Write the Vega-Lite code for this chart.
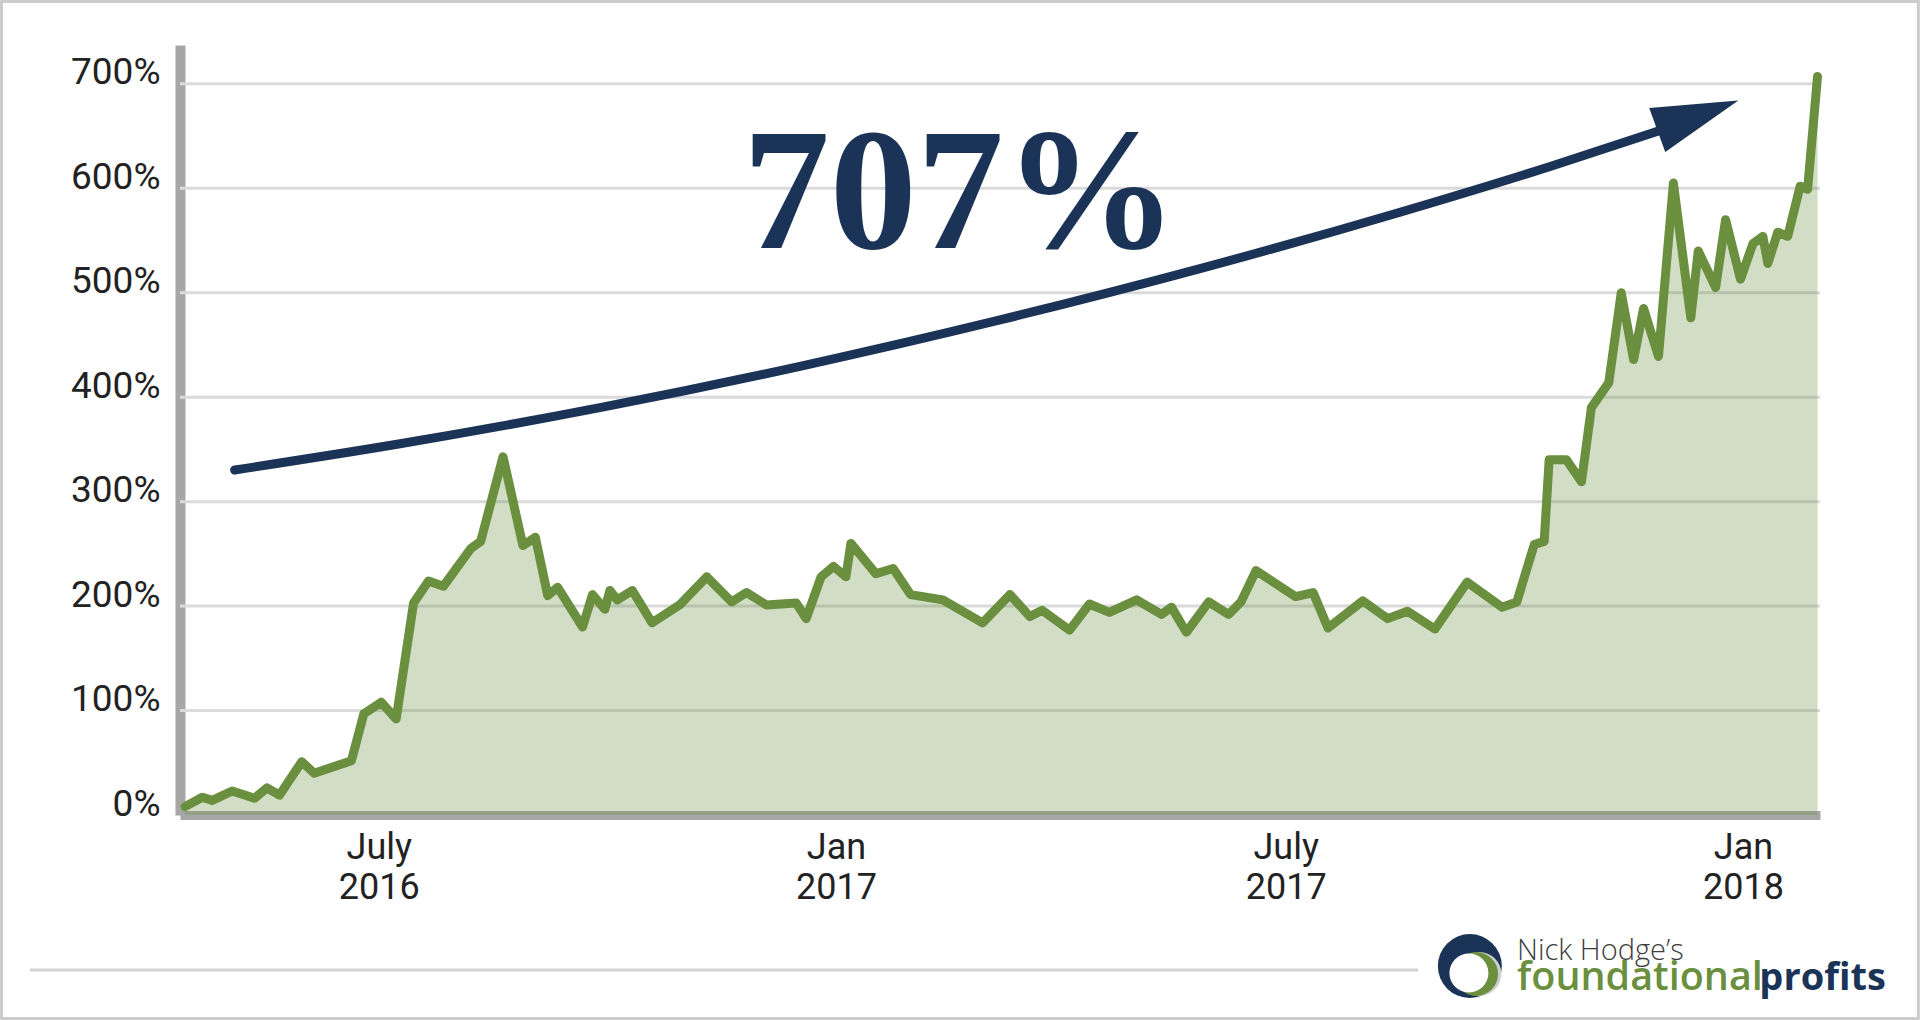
{
  "$schema": "https://vega.github.io/schema/vega-lite/v6.json",
  "width": 1640,
  "height": 770,
  "autosize": {"type": "none"},
  "padding": {"left": 180, "top": 45, "right": 100, "bottom": 205},
  "background": "white",
  "config": {
    "view": {"stroke": null},
    "axis": {"domainColor": "#a6a6a6", "ticks": false, "grid": false, "labelFont": "Roboto", "labelColor": "#222222", "zindex": 1}
  },
  "datasets": {
    "series": [
      {"date": "2016-04-14", "value": 8},
      {"date": "2016-04-21", "value": 17},
      {"date": "2016-04-25", "value": 14},
      {"date": "2016-05-03", "value": 23},
      {"date": "2016-05-12", "value": 16},
      {"date": "2016-05-17", "value": 26},
      {"date": "2016-05-22", "value": 19},
      {"date": "2016-05-31", "value": 51},
      {"date": "2016-06-05", "value": 40},
      {"date": "2016-06-20", "value": 52},
      {"date": "2016-06-25", "value": 97},
      {"date": "2016-07-02", "value": 108},
      {"date": "2016-07-08", "value": 92},
      {"date": "2016-07-15", "value": 203},
      {"date": "2016-07-21", "value": 224},
      {"date": "2016-07-27", "value": 219},
      {"date": "2016-08-07", "value": 255},
      {"date": "2016-08-11", "value": 262},
      {"date": "2016-08-20", "value": 343},
      {"date": "2016-08-28", "value": 258},
      {"date": "2016-09-02", "value": 266},
      {"date": "2016-09-07", "value": 210},
      {"date": "2016-09-11", "value": 218},
      {"date": "2016-09-21", "value": 180},
      {"date": "2016-09-25", "value": 211},
      {"date": "2016-09-30", "value": 197},
      {"date": "2016-10-02", "value": 215},
      {"date": "2016-10-05", "value": 206},
      {"date": "2016-10-11", "value": 215},
      {"date": "2016-10-19", "value": 184},
      {"date": "2016-10-30", "value": 201},
      {"date": "2016-11-10", "value": 228},
      {"date": "2016-11-20", "value": 204},
      {"date": "2016-11-26", "value": 213},
      {"date": "2016-12-04", "value": 201},
      {"date": "2016-12-16", "value": 203},
      {"date": "2016-12-20", "value": 188},
      {"date": "2016-12-26", "value": 228},
      {"date": "2016-12-31", "value": 238},
      {"date": "2017-01-05", "value": 228},
      {"date": "2017-01-07", "value": 260},
      {"date": "2017-01-17", "value": 231},
      {"date": "2017-01-24", "value": 236},
      {"date": "2017-01-31", "value": 211},
      {"date": "2017-02-13", "value": 206},
      {"date": "2017-03-01", "value": 184},
      {"date": "2017-03-12", "value": 211},
      {"date": "2017-03-20", "value": 190},
      {"date": "2017-03-25", "value": 196},
      {"date": "2017-04-05", "value": 177},
      {"date": "2017-04-13", "value": 202},
      {"date": "2017-04-21", "value": 194},
      {"date": "2017-05-02", "value": 206},
      {"date": "2017-05-12", "value": 192},
      {"date": "2017-05-16", "value": 199},
      {"date": "2017-05-22", "value": 175},
      {"date": "2017-05-31", "value": 204},
      {"date": "2017-06-08", "value": 192},
      {"date": "2017-06-13", "value": 204},
      {"date": "2017-06-19", "value": 234},
      {"date": "2017-07-05", "value": 209},
      {"date": "2017-07-12", "value": 213},
      {"date": "2017-07-18", "value": 179},
      {"date": "2017-08-01", "value": 205},
      {"date": "2017-08-11", "value": 188},
      {"date": "2017-08-19", "value": 195},
      {"date": "2017-08-30", "value": 178},
      {"date": "2017-09-12", "value": 223},
      {"date": "2017-09-26", "value": 199},
      {"date": "2017-10-02", "value": 204},
      {"date": "2017-10-09", "value": 259},
      {"date": "2017-10-13", "value": 262},
      {"date": "2017-10-15", "value": 340},
      {"date": "2017-10-22", "value": 340},
      {"date": "2017-10-28", "value": 319},
      {"date": "2017-11-01", "value": 390},
      {"date": "2017-11-08", "value": 414},
      {"date": "2017-11-13", "value": 500},
      {"date": "2017-11-18", "value": 436},
      {"date": "2017-11-22", "value": 485},
      {"date": "2017-11-28", "value": 439},
      {"date": "2017-12-04", "value": 605},
      {"date": "2017-12-11", "value": 476},
      {"date": "2017-12-14", "value": 540},
      {"date": "2017-12-21", "value": 505},
      {"date": "2017-12-25", "value": 570},
      {"date": "2017-12-31", "value": 513},
      {"date": "2018-01-05", "value": 547},
      {"date": "2018-01-09", "value": 554},
      {"date": "2018-01-11", "value": 528},
      {"date": "2018-01-15", "value": 558},
      {"date": "2018-01-19", "value": 554},
      {"date": "2018-01-24", "value": 602},
      {"date": "2018-01-27", "value": 599},
      {"date": "2018-01-31", "value": 707}
    ],
    "grid": [
      {"value": 100}, {"value": 200}, {"value": 300}, {"value": 400},
      {"value": 500}, {"value": 600}, {"value": 700}
    ],
    "arrow": [
      {"date": "2016-05-04T00:00:00Z", "value": 330.3},
      {"date": "2016-07-09T13:00:00Z", "value": 355.4},
      {"date": "2016-09-28T00:00:00Z", "value": 390.0},
      {"date": "2016-12-17T12:00:00Z", "value": 429.6},
      {"date": "2017-03-08T00:00:00Z", "value": 474.0},
      {"date": "2017-05-27T12:00:00Z", "value": 523.1},
      {"date": "2017-08-16T00:00:00Z", "value": 577.1},
      {"date": "2017-10-15T10:00:00Z", "value": 620.9},
      {"date": "2017-11-27T12:00:00Z", "value": 654.5}
    ],
    "head": [
      {"date": "2017-11-27T12:00:00Z", "value": 655.8}
    ],
    "headline": [
      {"date": "2017-02-20", "value": 542.8, "label": "707%"}
    ],
    "frame": [
      {"date": "2016-01-31T04:00:00Z", "date2": "2018-03-12T14:00:00Z", "value": 778.9, "value2": -194.8}
    ],
    "separator": [
      {"date": "2016-02-11T14:00:00Z", "date2": "2017-08-23T05:00:00Z", "value": -148.4}
    ],
    "logo": [
      {"part": "ring", "date": "2017-09-13T02:00:00Z", "value": -144.6},
      {"part": "gray", "date": "2017-09-16T22:00:00Z", "value": -152.2},
      {"part": "green", "date": "2017-09-15T14:00:00Z", "value": -152.2},
      {"part": "white", "date": "2017-09-12T17:00:00Z", "value": -151.2}
    ],
    "brand": [
      {"part": "nick", "date": "2017-10-02T01:30:00Z", "value": -138.8, "label": "Nick Hodge’s"},
      {"part": "found", "date": "2017-10-02T01:30:00Z", "value": -167.5, "label": "foundational"},
      {"part": "profits", "date": "2018-01-07T14:00:00Z", "value": -167.5, "label": "profits"}
    ]
  },
  "layer": [
    {
      "data": {"name": "frame"},
      "mark": {"type": "rect", "fillOpacity": 0, "stroke": "#cccccc", "strokeWidth": 3},
      "encoding": {
        "x": {"field": "date", "type": "temporal"},
        "x2": {"field": "date2"},
        "y": {"field": "value", "type": "quantitative"},
        "y2": {"field": "value2"}
      }
    },
    {
      "data": {"name": "grid"},
      "mark": {"type": "rule", "color": "#dadada", "strokeWidth": 3},
      "encoding": {
        "y": {"field": "value", "type": "quantitative"}
      }
    },
    {
      "data": {"name": "series"},
      "mark": {"type": "area", "color": "#6a8f3e", "opacity": 0.3},
      "encoding": {
        "x": {"field": "date", "type": "temporal",
          "scale": {"type": "utc", "nice": false, "domain": [{"year": 2016, "month": 4, "date": 12, "utc": true}, {"year": 2018, "month": 2, "date": 1, "utc": true}]},
          "axis": {
            "title": null,
            "values": [
              {"year": 2016, "month": 7, "date": 1, "utc": true},
              {"year": 2017, "month": 1, "date": 1, "utc": true},
              {"year": 2017, "month": 7, "date": 1, "utc": true},
              {"year": 2018, "month": 1, "date": 1, "utc": true}
            ],
            "labelExpr": "[utcmonth(datum.value) == 6 ? 'July' : 'Jan', utcFormat(datum.value, '%Y')]",
            "labelFontSize": 36,
            "labelLineHeight": 40,
            "labelPadding": 15,
            "labelFlush": false,
            "labelOverlap": false,
            "domainWidth": 9
          }
        },
        "y": {"field": "value", "type": "quantitative",
          "scale": {"domain": [0, 737.2], "nice": false, "zero": false},
          "axis": {
            "title": null,
            "values": [0, 100, 200, 300, 400, 500, 600, 700],
            "labelExpr": "datum.value + '%'",
            "labelBaseline": "alphabetic",
            "labelFontSize": 37,
            "labelPadding": 20,
            "labelOverlap": false,
            "domainWidth": 10
          }
        }
      }
    },
    {
      "data": {"name": "series"},
      "mark": {"type": "line", "color": "#6a8f3e", "strokeWidth": 9, "strokeJoin": "round", "strokeCap": "round"},
      "encoding": {
        "x": {"field": "date", "type": "temporal"},
        "y": {"field": "value", "type": "quantitative"}
      }
    },
    {
      "data": {"name": "arrow"},
      "mark": {"type": "line", "color": "#1b3356", "strokeWidth": 9, "strokeCap": "round", "interpolate": "monotone"},
      "encoding": {
        "x": {"field": "date", "type": "temporal"},
        "y": {"field": "value", "type": "quantitative"}
      }
    },
    {
      "data": {"name": "head"},
      "mark": {"type": "point", "shape": "M0,-0.272L1,0L0,0.272Z", "size": 29791, "angle": 340, "filled": true, "opacity": 1, "color": "#1b3356", "strokeWidth": 0},
      "encoding": {
        "x": {"field": "date", "type": "temporal"},
        "y": {"field": "value", "type": "quantitative"}
      }
    },
    {
      "data": {"name": "headline"},
      "mark": {"type": "text", "font": "Liberation Serif", "fontWeight": "bold", "fontSize": 174, "align": "center", "baseline": "alphabetic", "color": "#1b3356"},
      "encoding": {
        "x": {"field": "date", "type": "temporal"},
        "y": {"field": "value", "type": "quantitative"},
        "text": {"field": "label"}
      }
    },
    {
      "data": {"name": "separator"},
      "mark": {"type": "rule", "color": "#d3d3d3", "strokeWidth": 3},
      "encoding": {
        "x": {"field": "date", "type": "temporal"},
        "x2": {"field": "date2"},
        "y": {"field": "value", "type": "quantitative"}
      }
    },
    {
      "data": {"name": "logo"},
      "transform": [{"filter": "datum.part == 'ring'"}],
      "mark": {"type": "point", "shape": "circle", "size": 4096, "filled": true, "opacity": 1, "color": "#1b3356", "strokeWidth": 0},
      "encoding": {
        "x": {"field": "date", "type": "temporal"},
        "y": {"field": "value", "type": "quantitative"}
      }
    },
    {
      "data": {"name": "logo"},
      "transform": [{"filter": "datum.part == 'gray'"}],
      "mark": {"type": "point", "shape": "circle", "size": 1936, "filled": true, "opacity": 1, "color": "#cfcfcf", "strokeWidth": 0},
      "encoding": {
        "x": {"field": "date", "type": "temporal"},
        "y": {"field": "value", "type": "quantitative"}
      }
    },
    {
      "data": {"name": "logo"},
      "transform": [{"filter": "datum.part == 'green'"}],
      "mark": {"type": "point", "shape": "circle", "size": 1936, "filled": true, "opacity": 1, "color": "#6a8f3e", "strokeWidth": 0},
      "encoding": {
        "x": {"field": "date", "type": "temporal"},
        "y": {"field": "value", "type": "quantitative"}
      }
    },
    {
      "data": {"name": "logo"},
      "transform": [{"filter": "datum.part == 'white'"}],
      "mark": {"type": "point", "shape": "circle", "size": 1521, "filled": true, "opacity": 1, "color": "#ffffff", "strokeWidth": 0},
      "encoding": {
        "x": {"field": "date", "type": "temporal"},
        "y": {"field": "value", "type": "quantitative"}
      }
    },
    {
      "data": {"name": "brand"},
      "transform": [{"filter": "datum.part == 'nick'"}],
      "mark": {"type": "text", "font": "Open Sans", "fontWeight": 300, "fontSize": 29, "align": "left", "baseline": "alphabetic", "color": "#3d3d3d"},
      "encoding": {
        "x": {"field": "date", "type": "temporal"},
        "y": {"field": "value", "type": "quantitative"},
        "text": {"field": "label"}
      }
    },
    {
      "data": {"name": "brand"},
      "transform": [{"filter": "datum.part == 'found'"}],
      "mark": {"type": "text", "font": "Open Sans", "fontWeight": 600, "fontSize": 39.5, "align": "left", "baseline": "alphabetic", "color": "#6a8f3e"},
      "encoding": {
        "x": {"field": "date", "type": "temporal"},
        "y": {"field": "value", "type": "quantitative"},
        "text": {"field": "label"}
      }
    },
    {
      "data": {"name": "brand"},
      "transform": [{"filter": "datum.part == 'profits'"}],
      "mark": {"type": "text", "font": "Open Sans", "fontWeight": "bold", "fontSize": 38, "align": "left", "baseline": "alphabetic", "color": "#1b3356"},
      "encoding": {
        "x": {"field": "date", "type": "temporal"},
        "y": {"field": "value", "type": "quantitative"},
        "text": {"field": "label"}
      }
    }
  ]
}
